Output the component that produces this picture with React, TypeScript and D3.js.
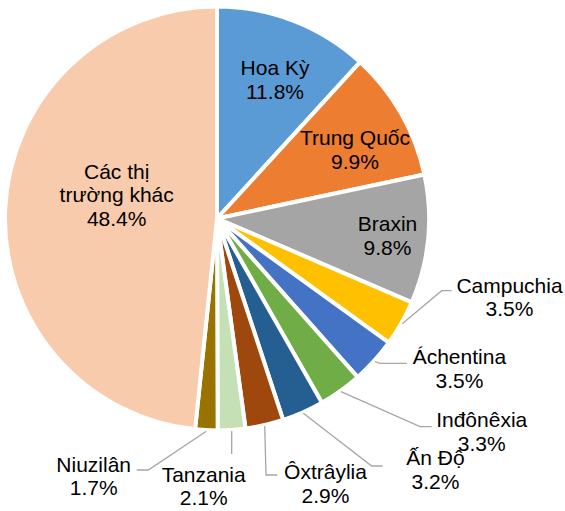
import React from "react";
import * as d3 from "d3";

const categories = [
  "Hoa Kỳ",
  "Trung Quốc",
  "Braxin",
  "Campuchia",
  "Áchentina",
  "Inđônêxia",
  "Ấn Độ",
  "Ôxtrâylia",
  "Tanzania",
  "Niuzilân",
  "Các thị trường khác",
];
const values = [11.8, 9.9, 9.8, 3.5, 3.5, 3.3, 3.2, 2.9, 2.1, 1.7, 48.4];
const valueLabels = ["11.8%", "9.9%", "9.8%", "3.5%", "3.5%", "3.3%", "3.2%", "2.9%", "2.1%", "1.7%", "48.4%"];
const nameLines = [
  ["Hoa Kỳ"],
  ["Trung Quốc"],
  ["Braxin"],
  ["Campuchia"],
  ["Áchentina"],
  ["Inđônêxia"],
  ["Ấn Độ"],
  ["Ôxtrâylia"],
  ["Tanzania"],
  ["Niuzilân"],
  ["Các thị", "trường khác"],
];

const colors = [
  "#5B9BD5",
  "#ED7D31",
  "#A5A5A5",
  "#FFC000",
  "#4472C4",
  "#70AD47",
  "#255E91",
  "#9E480E",
  "#C5E0B4",
  "#997300",
  "#F8CBAD",
];

// layout: label text center x, first baseline y, leader line bend/end points
const labelLayout: { x: number; y: number; leader?: [number, number][] }[] = [
  { x: 275, y: 75 },
  { x: 355, y: 145 },
  { x: 387.5, y: 231 },
  { x: 509.5, y: 292.5, leader: [[441.7, 290.7], [451.7, 290.7]] },
  { x: 459.4, y: 364, leader: [[380, 363.3], [406.7, 363.3]] },
  { x: 481.7, y: 427, leader: [[420, 426.7], [431.7, 426.7]] },
  { x: 435.5, y: 465, leader: [[371.7, 466], [382.7, 466]] },
  { x: 325.5, y: 479, leader: [[266, 475], [277.3, 475]] },
  { x: 203.7, y: 481.5, leader: [[231.7, 454]] },
  { x: 93.7, y: 471.5, leader: [[148.3, 470], [136.7, 470]] },
  { x: 116.7, y: 178.5 },
];

const W = 565;
const H = 511;
const cx = 217;
const cy = 218.5;
const R = 212;
const lineH = 23.7;
const fontSize = 21;

export default function App() {
  const pie = d3
    .pie<number>()
    .sort(null)
    .value((d) => d)
    .startAngle(0)
    .endAngle(2 * Math.PI);
  const arcs = pie(values);
  const arc = d3.arc<d3.PieArcDatum<number>>().innerRadius(0).outerRadius(R);
  const edge = d3
    .arc<d3.PieArcDatum<number>>()
    .innerRadius(R + 1)
    .outerRadius(R + 1);
  const line = d3.line();

  return (
    <div style={{ position: "fixed", left: 0, top: 0, width: W, height: H, background: "#fff" }}>
      <svg width={W} height={H} style={{ display: "block" }}>
        <g transform={`translate(${cx},${cy})`}>
          {arcs.map((a, i) => (
            <path key={i} d={arc(a) || ""} fill={colors[i]} stroke="#fff" strokeWidth={4} strokeLinejoin="round" />
          ))}
        </g>
        {arcs.map((a, i) => {
          const L = labelLayout[i];
          if (!L.leader) return null;
          const [sx, sy] = edge.centroid(a);
          const pts: [number, number][] = [[sx + cx, sy + cy], ...L.leader];
          return <path key={"l" + i} d={line(pts) || ""} fill="none" stroke="#A6A6A6" strokeWidth={1.3} />;
        })}
        {categories.map((c, i) => {
          const L = labelLayout[i];
          const lines = [...nameLines[i], valueLabels[i]];
          return (
            <text
              key={"t" + i}
              x={L.x}
              y={L.y}
              textAnchor="middle"
              fontFamily="'Liberation Sans', Arial, sans-serif"
              fontSize={fontSize}
              fill="#000"
            >
              {lines.map((t, j) => (
                <tspan key={j} x={L.x} dy={j === 0 ? 0 : lineH}>
                  {t}
                </tspan>
              ))}
            </text>
          );
        })}
      </svg>
    </div>
  );
}
